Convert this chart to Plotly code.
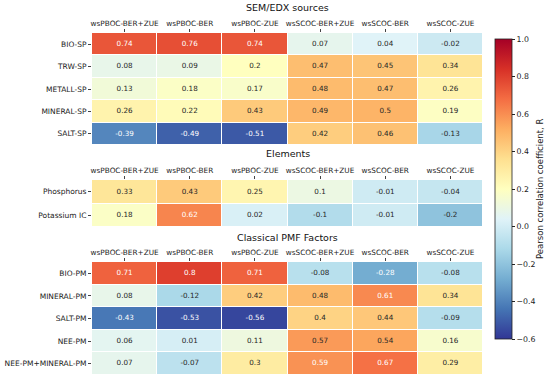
import plotly.graph_objects as go

cols = ["wsPBOC-BER+ZUE", "wsPBOC-BER", "wsPBOC-ZUE", "wsSCOC-BER+ZUE", "wsSCOC-BER", "wsSCOC-ZUE"]

sem_rows = ["BIO-SP", "TRW-SP", "METALL-SP", "MINERAL-SP", "SALT-SP"]
sem_vals = [
    [0.74, 0.76, 0.74, 0.07, 0.04, -0.02],
    [0.08, 0.09, 0.2, 0.47, 0.45, 0.34],
    [0.13, 0.18, 0.17, 0.48, 0.47, 0.26],
    [0.26, 0.22, 0.43, 0.49, 0.5, 0.19],
    [-0.39, -0.49, -0.51, 0.42, 0.46, -0.13],
]

el_rows = ["Phosphorus", "Potassium IC"]
el_vals = [
    [0.33, 0.43, 0.25, 0.1, -0.01, -0.04],
    [0.18, 0.62, 0.02, -0.1, -0.01, -0.2],
]

pmf_rows = ["BIO-PM", "MINERAL-PM", "SALT-PM", "NEE-PM", "NEE-PM+MINERAL-PM"]
pmf_vals = [
    [0.71, 0.8, 0.71, -0.08, -0.28, -0.08],
    [0.08, -0.12, 0.42, 0.48, 0.61, 0.34],
    [-0.43, -0.53, -0.56, 0.4, 0.44, -0.09],
    [0.06, 0.01, 0.11, 0.57, 0.54, 0.16],
    [0.07, -0.07, 0.3, 0.59, 0.67, 0.29],
]

titles = ["SEM/EDX sources", "Elements", "Classical PMF Factors"]
cbar_ticks = [-0.6, -0.4, -0.2, 0.0, 0.2, 0.4, 0.6, 0.8, 1.0]
cbar_title = "Pearson correlation coefficient, R"

ZMIN, ZMAX = -0.6, 1.0
FONT = "DejaVu Sans"
H = 380.0
W = 550.0

groups = [(sem_rows, sem_vals), (el_rows, el_vals), (pmf_rows, pmf_vals)]
# pixel extents (top, bottom) of each heatmap
ypix = [(33, 145), (180, 227), (262, 375)]
title_y = [8, 154, 237]
x_dom = [92 / W, 483 / W]

fig = go.Figure()
for i, (rows, vals) in enumerate(groups):
    sfx = "" if i == 0 else str(i + 1)
    fig.add_trace(go.Heatmap(
        z=vals, x=cols, y=rows, zmin=ZMIN, zmax=ZMAX, colorscale="RdYlBu_r",
        xgap=1, ygap=1, showscale=(i == 0), hoverinfo="skip",
        xaxis="x" + sfx, yaxis="y" + sfx,
        colorbar=dict(
            x=495 / W, xanchor="left", xpad=0, y=1 - 39 / H, yanchor="top",
            len=300 / H, lenmode="fraction", thickness=17, ypad=0,
            outlinewidth=0.8, outlinecolor="#222",
            tickvals=cbar_ticks, tickformat=".1f", ticks="outside", ticklen=3,
            tickcolor="#222", tickfont=dict(size=7.8, color="#222", family=FONT),
        ) if i == 0 else None,
    ))
    xs, ys, ts, cs = [], [], [], []
    for r, row in zip(rows, vals):
        for c, v in zip(cols, row):
            xs.append(c); ys.append(r); ts.append(f"{v:g}")
            cs.append("white" if (v > 0.58 or v < -0.25) else "#262626")
    fig.add_trace(go.Scatter(
        x=xs, y=ys, text=ts, mode="text", hoverinfo="skip", showlegend=False,
        textfont=dict(size=7.2, color=cs, family=FONT),
        xaxis="x" + sfx, yaxis="y" + sfx,
    ))
    top, bot = ypix[i]
    fig.update_layout({
        "xaxis" + sfx: dict(domain=x_dom, anchor="y" + sfx, side="top", showgrid=False,
                            zeroline=False, ticks="outside", ticklen=3, tickcolor="#444",
                            tickfont=dict(size=7.3, color="#222", family=FONT), tickangle=0,
                            showline=False),
        "yaxis" + sfx: dict(domain=[1 - bot / H, 1 - top / H], anchor="x" + sfx,
                            autorange="reversed", showgrid=False, zeroline=False,
                            ticks="outside", ticklen=3, tickcolor="#444",
                            tickfont=dict(size=7.5, color="#222", family=FONT),
                            showline=False),
    })
    fig.add_annotation(text=titles[i], x=(x_dom[0] + x_dom[1]) / 2, xref="paper",
                       y=1 - title_y[i] / H, yref="paper", showarrow=False,
                       xanchor="center", yanchor="middle",
                       font=dict(size=9.5, color="#111", family=FONT))

fig.add_annotation(text=cbar_title, textangle=-90, x=540 / W, xref="paper",
                   y=1 - 189 / H, yref="paper", showarrow=False,
                   xanchor="center", yanchor="middle",
                   font=dict(size=8.5, color="#222", family=FONT))

fig.update_layout(
    width=550, height=380, margin=dict(l=0, r=0, t=0, b=0),
    paper_bgcolor="white", plot_bgcolor="white", showlegend=False,
    font=dict(family=FONT),
)
fig.write_html("out.html", config={"displayModeBar": False},
               post_script="document.body.style.margin='0';")
